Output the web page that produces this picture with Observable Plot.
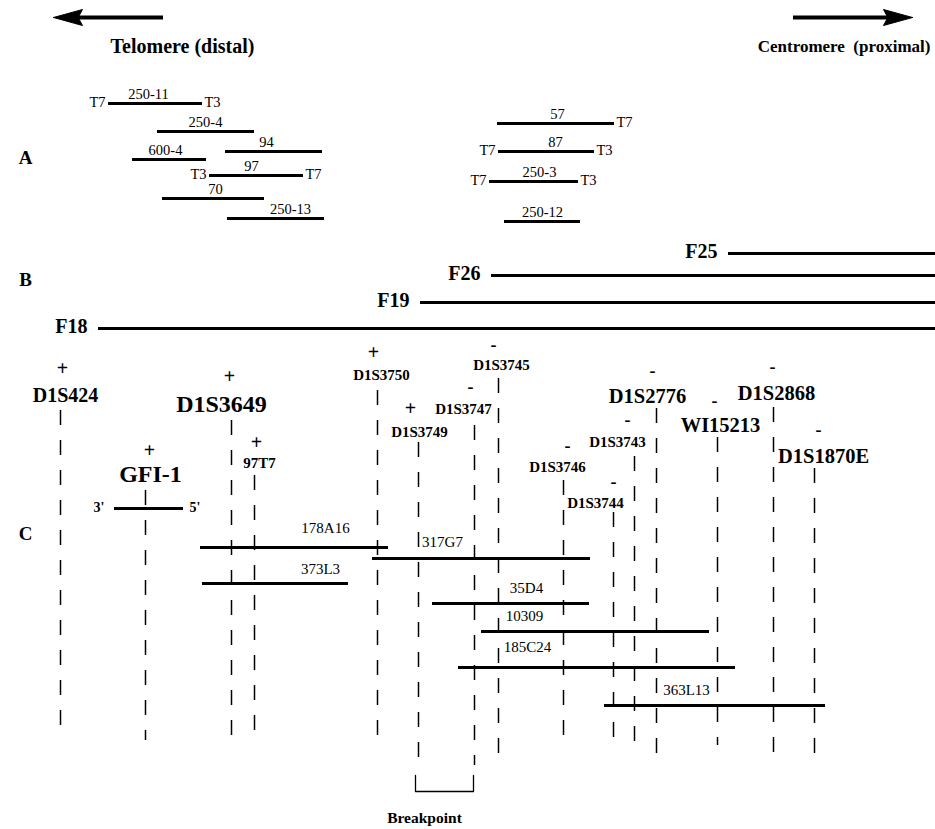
<!DOCTYPE html>
<html><head><meta charset="utf-8">
<script src="https://cdn.jsdelivr.net/npm/d3@7"></script>
<script src="https://cdn.jsdelivr.net/npm/@observablehq/plot@0.6"></script>
<style>body{margin:0;background:#fff}</style>
</head><body><div id="chart"></div>
<script>
// Panel A clones: name, start, end, row, label position, end-tags
const cloneA = [
  {name:"250-11", start:108, end:202, row:103, lab:148, left:"T7", right:"T3"},
  {name:"250-4",  start:157, end:254, row:131, lab:205, left:"",   right:""},
  {name:"94",     start:225, end:322, row:151, lab:266, left:"",   right:""},
  {name:"600-4",  start:132, end:206, row:159, lab:165, left:"",   right:""},
  {name:"97",     start:209, end:303, row:175, lab:251, left:"T3", right:"T7"},
  {name:"70",     start:162, end:264, row:198, lab:215, left:"",   right:""},
  {name:"250-13", start:227, end:324, row:218, lab:290, left:"",   right:""},
  {name:"57",     start:497, end:614, row:123, lab:557, left:"",   right:"T7"},
  {name:"87",     start:498, end:594, row:151, lab:555, left:"T7", right:"T3"},
  {name:"250-3",  start:489, end:578, row:181, lab:539, left:"T7", right:"T3"},
  {name:"250-12", start:504, end:580, row:221, lab:542, left:"",   right:""}
];
// Panel B hybrids
const hybrids = ["F25","F26","F19","F18"];
const hybStart = [728, 491, 420, 98];
const hybRow = [253, 275, 302, 328];
// Panel C markers: name, sign, map position, label position/row, sign position/row, font size, dashed-line extent
const markers = [
  {name:"D1S424",   sign:"+", pos:60,  lab:65,  row:395, sx:62,  sy:368, size:20, top:410, bot:740},
  {name:"GFI-1",    sign:"+", pos:145, lab:150, row:474, sx:149, sy:450, size:24, top:490, bot:740},
  {name:"D1S3649",  sign:"+", pos:231, lab:221, row:404, sx:229, sy:376, size:24, top:420, bot:738},
  {name:"97T7",     sign:"+", pos:254, lab:259, row:463, sx:256, sy:442, size:15, top:475, bot:735},
  {name:"D1S3750",  sign:"+", pos:377, lab:381, row:375, sx:373, sy:352, size:15, top:390, bot:745},
  {name:"D1S3749",  sign:"+", pos:418, lab:419, row:432, sx:410, sy:408, size:15, top:442, bot:762},
  {name:"D1S3747",  sign:"-", pos:474, lab:463, row:409, sx:470, sy:387, size:15, top:425, bot:765},
  {name:"D1S3745",  sign:"-", pos:498, lab:501, row:365, sx:493, sy:345, size:15, top:378, bot:760},
  {name:"D1S3746",  sign:"-", pos:563, lab:557, row:467, sx:567, sy:446, size:15, top:480, bot:742},
  {name:"D1S3744",  sign:"-", pos:613, lab:595, row:503, sx:613, sy:482, size:15, top:512, bot:750},
  {name:"D1S3743",  sign:"-", pos:634, lab:617, row:442, sx:627, sy:420, size:15, top:456, bot:750},
  {name:"D1S2776",  sign:"-", pos:656, lab:647, row:396, sx:652, sy:371, size:20.5, top:408, bot:755},
  {name:"WI15213",  sign:"-", pos:717, lab:720, row:425, sx:714, sy:401, size:20.5, top:437, bot:745},
  {name:"D1S2868",  sign:"-", pos:773, lab:776, row:393, sx:772, sy:367, size:20.5, top:407, bot:755},
  {name:"D1S1870E", sign:"-", pos:814, lab:823, row:456, sx:818, sy:430, size:20.5, top:468, bot:755}
];
// Panel C clones
const cloneC = [
  {name:"178A16", start:200, end:388, row:547, lab:325, labRow:528},
  {name:"317G7",  start:372, end:590, row:558, lab:442, labRow:542},
  {name:"373L3",  start:202, end:348, row:583, lab:320, labRow:569},
  {name:"35D4",   start:432, end:589, row:603, lab:526, labRow:588},
  {name:"10309",  start:481, end:709, row:631, lab:524, labRow:616},
  {name:"185C24", start:458, end:735, row:667, lab:527, labRow:647},
  {name:"363L13", start:604, end:825, row:705, lab:686, labRow:690}
];
// GFI-1 gene orientation
const gene = [{start:114, end:183, row:508, left:"3'", right:"5'"}];
// Orientation
const directions = [
  {label:"Telomere (distal)", tail:163, tip:53, row:17, lab:182, anchor:"middle", size:20},
  {label:"Centromere  (proximal)", tail:793, tip:912, row:17, lab:930, anchor:"end", size:17}
];
const panels = [{name:"A", row:157}, {name:"B", row:279}, {name:"C", row:533}];
const breakpoint = {left:415, right:473, top:775, bottom:791, label:"Breakpoint", lab:424, row:818};

const serif = "'Liberation Serif', 'Times New Roman', serif";
const headLen = 29, headHalf = 8;
const hyb = hybrids.map((n,i)=>({name:n, start:hybStart[i], end:935, row:hybRow[i]}));
const heads = directions.flatMap((d,i)=>{
  const s = d.tip < d.tail ? 1 : -1;
  return [
    {k:i, x:d.tip, y:d.row},
    {k:i, x:d.tip + s*headLen, y:d.row - headHalf},
    {k:i, x:d.tip + s*headLen*0.85, y:d.row},
    {k:i, x:d.tip + s*headLen, y:d.row + headHalf},
    {k:i, x:d.tip, y:d.row}
  ];
});
const bpPath = [
  {x:breakpoint.left, y:breakpoint.top}, {x:breakpoint.left, y:breakpoint.bottom},
  {x:breakpoint.right, y:breakpoint.bottom}, {x:breakpoint.right, y:breakpoint.top}
];

const chart = Plot.plot({
  width:935, height:829, margin:0,
  x:{domain:[0,935], range:[0,935], axis:null},
  y:{domain:[0,829], range:[0,829], axis:null},
  marks:[
    // direction arrows
    Plot.ruleY(directions, {y:"row", x1:"tail", x2:d=>d.tip + (d.tip<d.tail?20:-20), stroke:"#000", strokeWidth:4}),
    Plot.line(heads, {x:"x", y:"y", z:"k", fill:"#000", stroke:"#000", strokeWidth:1}),
    Plot.text(directions.filter(d=>d.anchor==="middle"), {x:"lab", y:46, text:"label", fontFamily:serif, fontWeight:"bold", fontSize:20}),
    Plot.text(directions.filter(d=>d.anchor==="end"), {x:"lab", y:46, text:"label", textAnchor:"end", fontFamily:serif, fontWeight:"bold", fontSize:17}),
    // panel letters
    Plot.text(panels, {x:25, y:"row", text:"name", fontFamily:serif, fontWeight:"bold", fontSize:19}),
    // panel A
    Plot.ruleY(cloneA, {y:"row", x1:"start", x2:"end", stroke:"#000", strokeWidth:2.8}),
    Plot.text(cloneA, {x:"lab", y:d=>d.row-9.5, text:"name", fontFamily:serif, fontSize:14.5}),
    Plot.text(cloneA.filter(d=>d.left), {x:d=>d.start-3, y:d=>d.row-1, text:"left", textAnchor:"end", fontFamily:serif, fontSize:14.5}),
    Plot.text(cloneA.filter(d=>d.right), {x:d=>d.end+2, y:d=>d.row-1, text:"right", textAnchor:"start", fontFamily:serif, fontSize:14.5}),
    // panel B
    Plot.ruleY(hyb, {y:"row", x1:"start", x2:"end", stroke:"#000", strokeWidth:3.2}),
    Plot.text(hyb, {x:d=>d.start-11, y:d=>d.row-2, text:"name", textAnchor:"end", fontFamily:serif, fontWeight:"bold", fontSize:20}),
    // panel C dashed marker lines
    Plot.ruleX(markers, {x:"pos", y1:"top", y2:"bot", stroke:"#000", strokeWidth:1.5, strokeDasharray:"15,15"}),
    // gene
    Plot.ruleY(gene, {y:"row", x1:"start", x2:"end", stroke:"#000", strokeWidth:2.8}),
    Plot.text(gene, {x:d=>d.start-10, y:d=>d.row-1, text:"left", textAnchor:"end", fontFamily:serif, fontWeight:"bold", fontSize:14}),
    Plot.text(gene, {x:d=>d.end+6, y:d=>d.row-1, text:"right", textAnchor:"start", fontFamily:serif, fontWeight:"bold", fontSize:14}),
    // clones C
    Plot.ruleY(cloneC, {y:"row", x1:"start", x2:"end", stroke:"#000", strokeWidth:2.8}),
    Plot.text(cloneC, {x:"lab", y:"labRow", text:"name", fontFamily:serif, fontSize:15}),
    // marker labels and signs
    Plot.text(markers, {x:"lab", y:"row", text:"name", fontFamily:serif, fontWeight:"bold", fontSize:d=>d.size}),
    Plot.text(markers, {x:"sx", y:"sy", text:"sign", fontFamily:serif, fontWeight:"bold", fontSize:d=>d.sign==="+"?20:18}),
    // breakpoint bracket
    Plot.line(bpPath, {x:"x", y:"y", stroke:"#000", strokeWidth:1.3}),
    Plot.text([breakpoint], {x:"lab", y:"row", text:"label", fontFamily:serif, fontWeight:"bold", fontSize:15.5})
  ]
});
document.getElementById("chart").append(chart);
</script>
</body></html>
